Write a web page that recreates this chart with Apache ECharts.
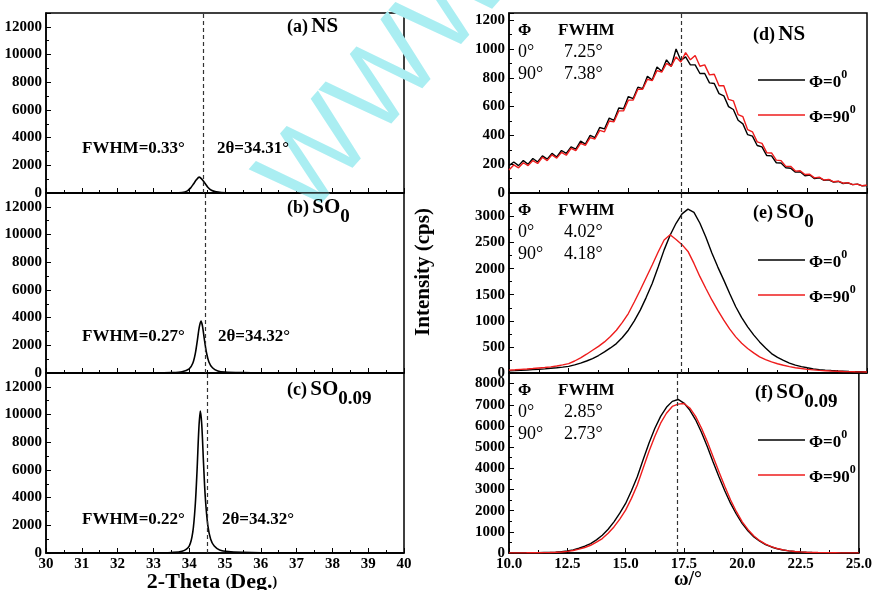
<!DOCTYPE html>
<html>
<head>
<meta charset="utf-8">
<script src="https://cdn.jsdelivr.net/npm/echarts@6/dist/echarts.min.js"></script>
<style>
  html, body { margin: 0; padding: 0; background: #fff; }
  #chart { width: 875px; height: 590px; }
</style>
</head>
<body>
<div id="chart"></div>
<script>
// 2-theta scans (left column)
const thetaA = [30, 33, 33.5, 33.8, 33.95, 34.05, 34.12, 34.2, 34.28, 34.36, 34.44, 34.52, 34.62, 34.75, 34.9, 35.2, 36, 40];
const intA = [0, 10, 20, 40, 150, 400, 650, 950, 1150, 980, 700, 420, 200, 80, 35, 15, 8, 0];
const thetaB = [30, 33, 33.5, 33.8, 34.0, 34.1, 34.17, 34.23, 34.28, 34.33, 34.37, 34.42, 34.48, 34.55, 34.65, 34.8, 35, 35.5, 36, 40];
const intB = [0, 10, 30, 90, 300, 700, 1400, 2400, 3300, 3750, 3400, 2500, 1500, 800, 380, 150, 70, 25, 10, 0];
const thetaC = [30, 33, 33.5, 33.8, 34.0, 34.1, 34.17, 34.22, 34.27, 34.31, 34.35, 34.4, 34.45, 34.52, 34.6, 34.7, 34.85, 35.1, 35.5, 36, 40];
const intC = [0, 15, 40, 120, 500, 1500, 3500, 6000, 9000, 10250, 9300, 6500, 4000, 2000, 1000, 500, 220, 100, 45, 20, 0];
const peakLine = [34.39, 34.44, 34.5];

// rocking curves (right column)
const omegaD = [10.0,10.2,10.4,10.6,10.8,11.0,11.2,11.4,11.6,11.8,12.0,12.2,12.4,12.6,12.8,13.0,13.2,13.4,13.6,13.8,14.0,14.2,14.4,14.6,14.8,15.0,15.2,15.4,15.6,15.8,16.0,16.2,16.4,16.6,16.8,17.0,17.2,17.4,17.6,17.8,18.0,18.2,18.4,18.6,18.8,19.0,19.2,19.4,19.6,19.8,20.0,20.2,20.4,20.6,20.8,21.0,21.2,21.4,21.6,21.8,22.0,22.2,22.4,22.6,22.8,23.0,23.2,23.4,23.6,23.8,24.0,24.2,24.4,24.6,24.8,25.0];
const nsPhi0 = [190,215,190,225,200,240,215,258,235,275,250,295,275,320,305,360,340,400,385,455,445,520,505,590,585,670,655,735,725,810,785,875,845,925,880,1000,920,945,890,890,830,830,765,760,690,675,600,580,505,480,405,395,330,320,260,258,210,208,175,172,145,148,120,125,100,106,88,92,76,80,66,70,58,62,50,52];
const nsPhi90 = [160,195,175,210,190,225,205,248,225,265,242,282,262,310,295,345,330,385,375,435,425,500,495,570,570,645,645,720,720,790,780,850,840,900,880,945,910,975,925,955,880,890,820,825,745,745,650,640,545,530,440,425,355,345,280,278,228,225,185,185,152,155,128,130,105,110,90,95,78,82,68,72,58,62,50,55];

const omegaQ = [10,10.25,10.5,10.75,11,11.25,11.5,11.75,12,12.25,12.5,12.75,13,13.25,13.5,13.75,14,14.25,14.5,14.75,15,15.25,15.5,15.75,16,16.25,16.5,16.75,17,17.25,17.5,17.75,18,18.25,18.5,18.75,19,19.25,19.5,19.75,20,20.25,20.5,20.75,21,21.25,21.5,21.75,22,22.25,22.5,22.75,23,23.25,23.5,23.75,24,24.25,24.5,24.75,25];
const so0Phi0 = [40,45,52,58,65,72,80,90,100,112,128,155,190,230,277,335,404,480,564,680,820,1000,1205,1450,1717,2030,2360,2640,2870,3050,3140,3080,2870,2600,2300,2030,1780,1520,1270,1060,885,730,596,480,373,300,244,190,150,122,100,80,65,55,47,40,35,30,26,23,20];
const so0Phi90 = [55,62,70,77,85,95,105,118,135,155,180,230,290,360,436,510,596,700,820,970,1140,1360,1590,1830,2070,2320,2550,2650,2560,2460,2330,2100,1846,1620,1400,1200,1013,840,692,570,470,385,308,255,212,178,148,122,100,85,70,60,50,44,38,34,30,27,24,22,20];
const so9Phi0 = [5,6,8,10,14,18,24,30,40,60,95,150,225,320,445,620,840,1120,1470,1880,2340,2940,3600,4400,5185,5880,6450,6880,7160,7250,7080,6750,6290,5700,5025,4300,3600,2940,2340,1830,1390,1040,760,560,400,285,200,140,100,72,50,36,25,20,16,12,10,8,7,6,5];
const so9Phi90 = [5,6,7,9,12,15,20,25,33,48,75,120,180,260,365,510,683,930,1230,1600,2025,2580,3210,4000,4790,5500,6130,6600,6920,7030,7060,6850,6450,5900,5260,4550,3840,3150,2500,1950,1470,1100,800,580,420,300,210,148,100,72,52,38,27,21,16,12,10,8,7,6,5];
const omegaLine = 17.22;
const phiNames = ['Φ=0', 'Φ=90'];

const serif = "'Liberation Serif', 'DejaVu Serif', serif";
const red = '#ee1c1c';

function pairs(xs, ys) {
  return xs.map((x, i) => [x, ys[i]]);
}

const tops = [13, 193, 373];
const grids = [];
tops.forEach(t => grids.push({ left: 46, top: t, width: 358, height: 180, show: true, borderColor: '#000', borderWidth: 1.5 }));
tops.forEach(t => grids.push({ left: 509, top: t, width: 358, height: 180, show: true, borderColor: '#000', borderWidth: 1.5 }));

const axisBase = {
  axisLine: { show: true, onZero: false, lineStyle: { color: '#000', width: 1.5 } },
  axisTick: { show: true, inside: true, length: 5, lineStyle: { color: '#000' } },
  minorTick: { show: true, splitNumber: 2, length: 3, lineStyle: { color: '#000' } },
  splitLine: { show: false },
  axisLabel: { color: '#000', fontFamily: serif, fontWeight: 'bold', fontSize: 15, margin: 4, formatter: v => String(v) }
};

const xAxes = [];
const yAxes = [];
for (let i = 0; i < 3; i++) {
  xAxes.push(Object.assign({}, axisBase, {
    type: 'value', gridIndex: i, min: 30, max: 40, interval: 1,
    axisLabel: Object.assign({}, axisBase.axisLabel, { show: i === 2 })
  }));
  yAxes.push(Object.assign({}, axisBase, {
    type: 'value', gridIndex: i, min: 0, max: 13000, interval: 2000,
    axisLabel: Object.assign({}, axisBase.axisLabel, { showMaxLabel: false })
  }));
}
const rightMax = [1250, 3450, 8500];
const rightInt = [200, 500, 1000];
for (let i = 0; i < 3; i++) {
  xAxes.push(Object.assign({}, axisBase, {
    type: 'value', gridIndex: 3 + i, min: 10, max: 25, interval: 2.5,
    axisLabel: Object.assign({}, axisBase.axisLabel, { show: i === 2, formatter: v => v.toFixed(1) })
  }));
  yAxes.push(Object.assign({}, axisBase, {
    type: 'value', gridIndex: 3 + i, min: 0, max: rightMax[i], interval: rightInt[i],
    axisLabel: Object.assign({}, axisBase.axisLabel, { showMaxLabel: false })
  }));
}

function dashLine(x) {
  return {
    silent: true, symbol: ['none', 'none'], label: { show: false },
    lineStyle: { type: [4, 3], color: '#333', width: 1.2 },
    data: [{ xAxis: x }]
  };
}

const series = [];
[[thetaA, intA], [thetaB, intB], [thetaC, intC]].forEach((d, i) => {
  series.push({
    type: 'line', xAxisIndex: i, yAxisIndex: i, data: pairs(d[0], d[1]),
    showSymbol: false, smooth: 0.3, lineStyle: { color: '#000', width: 1.6 },
    markLine: dashLine(peakLine[i])
  });
});
const right = [[omegaD, nsPhi0, nsPhi90], [omegaQ, so0Phi0, so0Phi90], [omegaQ, so9Phi0, so9Phi90]];
right.forEach((d, i) => {
  series.push({
    name: phiNames[0], type: 'line', xAxisIndex: 3 + i, yAxisIndex: 3 + i, data: pairs(d[0], d[1]),
    showSymbol: false, color: '#000', lineStyle: { color: '#000', width: 1.4 },
    markLine: dashLine(omegaLine)
  });
  series.push({
    name: phiNames[1], type: 'line', xAxisIndex: 3 + i, yAxisIndex: 3 + i, data: pairs(d[0], d[2]),
    showSymbol: false, color: red, lineStyle: { color: red, width: 1.4 }
  });
});

const richLabel = {
  p: { fontFamily: serif, fontWeight: 'bold', fontSize: 18, fill: '#000', lineHeight: 26, verticalAlign: 'middle' },
  n: { fontFamily: serif, fontWeight: 'bold', fontSize: 21, fill: '#000', lineHeight: 26, verticalAlign: 'middle' },
  sub: { fontFamily: serif, fontWeight: 'bold', fontSize: 19, fill: '#000', lineHeight: 26, verticalAlign: 'bottom', padding: [0, 0, -6, 0] }
};
function label(x, y, text) {
  return { type: 'text', x: x, y: y, z: 10, style: { text: text, rich: richLabel, verticalAlign: 'middle' } };
}
function txt(x, y, text, bold, size) {
  return {
    type: 'text', x: x, y: y, z: 10,
    style: { text: text, fill: '#000', font: (bold ? 'bold ' : '') + (size || 16) + 'px ' + serif, verticalAlign: 'middle' }
  };
}

const graphics = [
  // watermark
  { type: 'text', x: 325, y: 237, rotation: 0.85, z: 1,
    style: { text: 'WWW', fill: '#aaeef2', font: '112px "Liberation Sans"', verticalAlign: 'bottom' } },
  label(287, 27, '{p|(a)} {n|NS}'),
  label(287, 208, '{p|(b)} {n|SO}{sub|0}'),
  label(287, 390, '{p|(c)} {n|SO}{sub|0.09}'),
  label(753, 35, '{p|(d)} {n|NS}'),
  label(753, 213, '{p|(e)} {n|SO}{sub|0}'),
  label(755, 393, '{p|(f)} {n|SO}{sub|0.09}'),
  txt(82, 149, 'FWHM=0.33°', true, 17), txt(217, 149, '2θ=34.31°', true, 17),
  txt(82, 337, 'FWHM=0.27°', true, 17), txt(218, 337, '2θ=34.32°', true, 17),
  txt(82, 520, 'FWHM=0.22°', true, 17), txt(222, 520, '2θ=34.32°', true, 17)
];
const fw = [['7.25°', '7.38°'], ['4.02°', '4.18°'], ['2.85°', '2.73°']];
const legendRich = {
  m: { fontFamily: serif, fontWeight: 'bold', fontSize: 17, fill: '#000', lineHeight: 22, verticalAlign: 'bottom' },
  s: { fontFamily: serif, fontWeight: 'bold', fontSize: 12, fill: '#000', lineHeight: 22, verticalAlign: 'top' }
};
tops.forEach((t, i) => {
  graphics.push(txt(518, t + 18, 'Φ', true, 16));
  graphics.push(txt(558, t + 18, 'FWHM', true, 17));
  graphics.push(txt(518, t + 39, '0°', false, 18));
  graphics.push(txt(564, t + 39, fw[i][0], false, 18));
  graphics.push(txt(518, t + 61, '90°', false, 18));
  graphics.push(txt(564, t + 61, fw[i][1], false, 18));
  // legend for this panel
  phiNames.forEach((n, k) => {
    const y = t + 67 + k * 35;
    graphics.push({ type: 'line', z: 10, shape: { x1: 758, y1: y, x2: 805, y2: y },
      style: { stroke: k === 0 ? '#000' : red, lineWidth: 1.6 } });
    graphics.push({ type: 'text', x: 809, y: y, z: 10,
      style: { text: '{m|' + n + '}{s|0}', rich: legendRich, verticalAlign: 'middle' } });
  });
});
// axis titles
graphics.push({
  type: 'text', x: 212, y: 582, z: 10,
  style: {
    text: '{a|2-Theta }{b|(}{a|Deg.}{b|)}', align: 'center', verticalAlign: 'middle',
    rich: {
      a: { fontFamily: serif, fontWeight: 'bold', fontSize: 22, fill: '#000', lineHeight: 24 },
      b: { fontFamily: serif, fontWeight: 'bold', fontSize: 14, fill: '#000', lineHeight: 24 }
    }
  }
});
graphics.push({
  type: 'text', x: 688, y: 580, z: 10,
  style: { text: 'ω/°', fill: '#000', font: 'bold 20px ' + serif, align: 'center', verticalAlign: 'middle' }
});
graphics.push({
  type: 'text', x: 424, y: 272, rotation: Math.PI / 2, z: 10,
  style: { text: 'Intensity (cps)', fill: '#000', font: 'bold 21px ' + serif, align: 'center', verticalAlign: 'middle' }
});

const chart = echarts.init(document.getElementById('chart'));
chart.setOption({
  backgroundColor: '#fff',
  animation: false,
  grid: grids,
  xAxis: xAxes,
  yAxis: yAxes,
  series: series,
  graphic: graphics
});
</script>
</body>
</html>
